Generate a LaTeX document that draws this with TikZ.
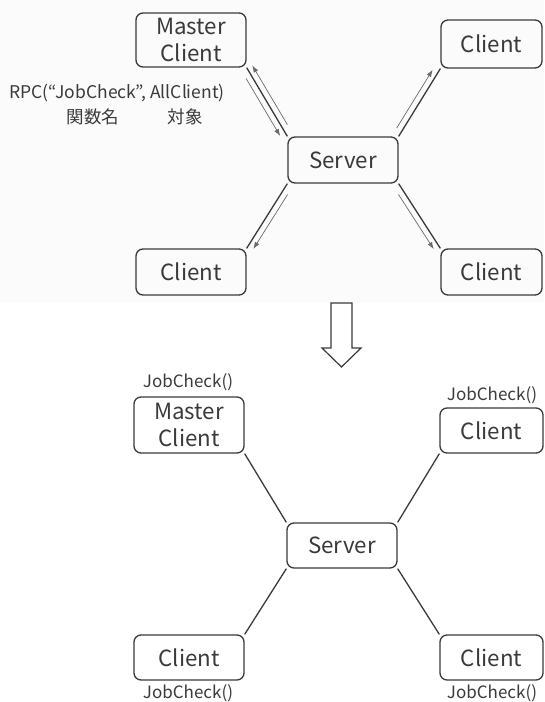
\documentclass[tikz,border=0pt]{standalone}
\usepackage{fontspec}
\setmainfont{Noto Sans CJK JP}
\usetikzlibrary{calc,arrows.meta}
\definecolor{ink}{HTML}{3A3A3A}
\definecolor{thin}{HTML}{6A6A6A}
\tikzset{
  box/.style={draw=ink, line width=1.3pt, rounded corners=7pt, inner sep=0pt, text=ink, font=\fontsize{22.3}{27}\selectfont, align=center},
  link/.style={draw=ink, line width=1.3pt},
  msg/.style={draw=thin, line width=0.7pt, -{Latex[length=7pt,width=5pt]}},
  small/.style={text=ink, font=\fontsize{17.5}{20}\selectfont, inner sep=0pt},
  jc/.style={text=ink, font=\fontsize{17}{19}\selectfont, inner sep=0pt},
}
\begin{document}
\begin{tikzpicture}[x=1pt,y=-1pt]
\useasboundingbox (0,0) rectangle (544,702);
\fill[black!1.5] (0,0) rectangle (544,303);
% ---------- top panel ----------
\node[box, minimum width=110pt, minimum height=54pt] (M1) at (191,40) {Master\\Client};
\node[box, minimum width=101pt, minimum height=48pt] (C1) at (491.5,44) {Client};
\node[box, minimum width=110pt, minimum height=46pt] (S1) at (343,160) {Server};
\node[box, minimum width=110pt, minimum height=46pt] (C2) at (191,272) {Client};
\node[box, minimum width=101pt, minimum height=46pt] (C3) at (491.5,272) {Client};

\draw[link] (M1.south east) -- (S1.north west);
\draw[link] (S1.north east) -- (C1.south west);
\draw[link] (S1.south east) -- (C3.north west);
\draw[link] (S1.south west) -- (C2.north east);

% messages
\draw[msg, shorten <=9pt, shorten >=4pt]
  ($(M1.south east)!6pt!-90:(S1.north west)$) -- ($(S1.north west)!6pt!90:(M1.south east)$);
\draw[msg, shorten <=10pt, shorten >=1pt]
  ($(S1.north west)!6pt!-90:(M1.south east)$) -- ($(M1.south east)!6pt!90:(S1.north west)$);
\draw[msg, shorten <=6pt, shorten >=5pt]
  ($(S1.north east)!6pt!90:(C1.south west)$) -- ($(C1.south west)!6pt!-90:(S1.north east)$);
\draw[msg, shorten <=9pt, shorten >=3pt]
  ($(S1.south east)!6pt!-90:(C3.north west)$) -- ($(C3.north west)!6pt!90:(S1.south east)$);
\draw[msg, shorten <=9pt, shorten >=3pt]
  ($(S1.south west)!6pt!90:(C2.north east)$) -- ($(C2.north east)!6pt!-90:(S1.south west)$);

\node[small] (rpc) at (117,93) {RPC(“JobCheck”, AllClient)};
\node[small] (fn) at (93,117) {関数名};
\node[small] (tg) at (185,117) {対象};

% ---------- down arrow ----------
\draw[draw=ink, line width=1.2pt, fill=white, line join=miter]
  (331,303) -- (352,303) -- (352,348) -- (361,348) -- (341.5,367) -- (322,348) -- (331,348) -- cycle;

% ---------- bottom panel ----------
\node[box, minimum width=110pt, minimum height=56pt] (M2) at (189,425) {Master\\Client};
\node[box, minimum width=103pt, minimum height=45pt] (C4) at (491.5,430.5) {Client};
\node[box, minimum width=110pt, minimum height=45pt] (S2) at (342,545.5) {Server};
\node[box, minimum width=110pt, minimum height=45pt] (C5) at (189,657.5) {Client};
\node[box, minimum width=103pt, minimum height=45pt] (C6) at (491.5,657.5) {Client};

\draw[link] (M2.south east) -- (S2.north west);
\draw[link] (S2.north east) -- (C4.south west);
\draw[link] (S2.south east) -- (C6.north west);
\draw[link] (S2.south west) -- (C5.north east);

\node[jc] (j1) at (188,382) {JobCheck()};
\node[jc] (j2) at (492,395) {JobCheck()};
\node[jc] (j3) at (188,693) {JobCheck()};
\node[jc] (j4) at (492,693) {JobCheck()};
\end{tikzpicture}
\end{document}
